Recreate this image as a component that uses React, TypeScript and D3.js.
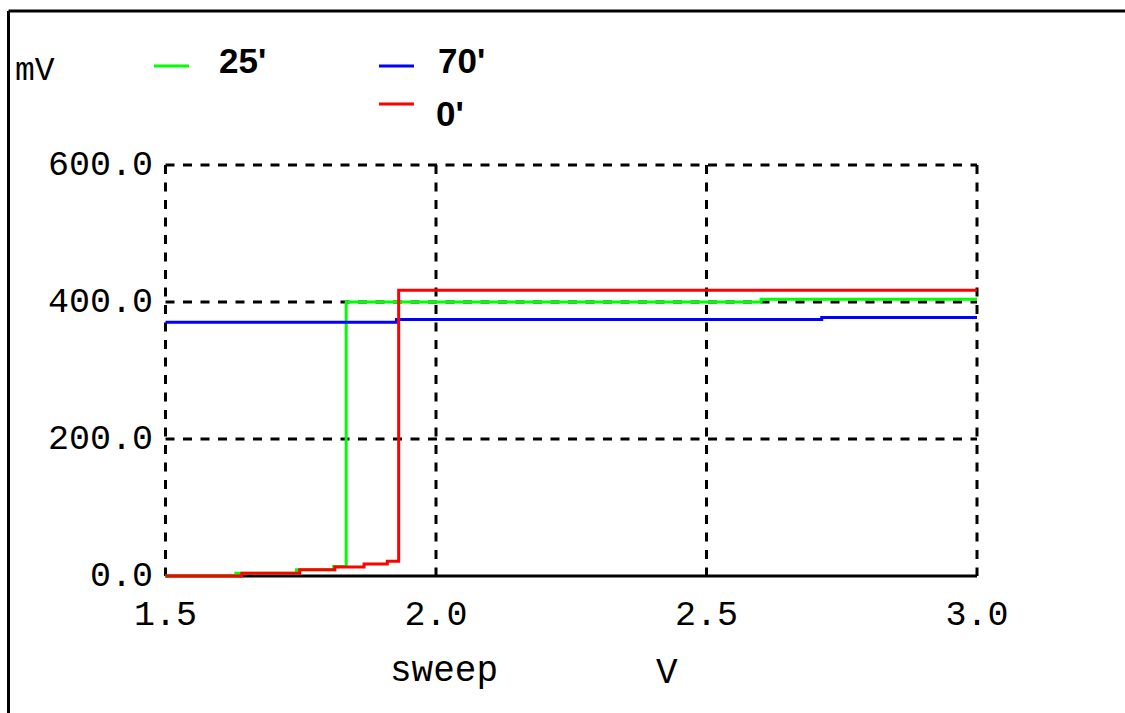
import * as d3 from 'd3';

// sweep voltage breakpoints (V) and values (mV) for each trace, step-after
const green25X = [1.5, 1.63, 1.742, 1.811, 1.834, 2.601, 3.0];
const green25Y = [0, 4, 9, 14, 400, 404, 404];

const blue70X = [1.5, 1.927, 2.713, 3.0];
const blue70Y = [370.4, 374.5, 377.3, 377.3];

const red0X = [1.5, 1.641, 1.748, 1.813, 1.867, 1.91, 1.931, 3.0];
const red0Y = [0, 4, 9, 13, 17.5, 21.4, 417, 417];

const xTicks = [1.5, 2.0, 2.5, 3.0];
const yTicks = [0, 200, 400, 600];

const series = [
  { name: "25'", color: '#00ff00', xs: green25X, ys: green25Y },
  { name: "70'", color: '#0000ff', xs: blue70X, ys: blue70Y },
  { name: "0'", color: '#ff0000', xs: red0X, ys: red0Y },
];

const W = 1125;
const H = 713;
const mono = "'Liberation Mono', 'DejaVu Sans Mono', monospace";
const sans = "'Liberation Sans', Arial, sans-serif";

function App() {
  const x = d3.scaleLinear([1.5, 3.0], [165.5, 977]);
  const y = d3.scaleLinear([0, 600], [576, 165]);

  const line = d3
    .line<[number, number]>()
    .x((d) => x(d[0]))
    .y((d) => y(d[1]))
    .curve(d3.curveStepAfter);

  const legend = [
    { s: series[0], lx: 154, tx: 219, ly: 66, ty: 73 },
    { s: series[1], lx: 379, tx: 438, ly: 66, ty: 73 },
    { s: series[2], lx: 379, tx: 436, ly: 104, ty: 126 },
  ];

  return (
    <svg
      width={W}
      height={H}
      style={{ position: 'absolute', left: 0, top: 0, background: '#fff' }}
    >
      {/* outer frame (top and left edges visible) */}
      <line x1={8.5} y1={11} x2={W} y2={11} stroke="#000" strokeWidth={3} />
      <line x1={8.5} y1={11} x2={8.5} y2={H} stroke="#000" strokeWidth={3} />

      {/* grid */}
      <g stroke="#000" strokeWidth={3} strokeDasharray="9,8.5">
        {xTicks.map((t) => (
          <line key={'gx' + t} x1={x(t)} x2={x(t)} y1={y(600)} y2={y(0)} />
        ))}
        {yTicks
          .filter((t) => t > 0)
          .map((t) => (
            <line key={'gy' + t} x1={x(1.5)} x2={x(3.0)} y1={y(t)} y2={y(t)} />
          ))}
      </g>
      <line x1={x(1.5)} x2={x(3.0)} y1={y(0)} y2={y(0)} stroke="#000" strokeWidth={3} />

      {/* traces */}
      {series.map((s) => (
        <path
          key={s.name}
          d={line(s.xs.map((v, i) => [v, s.ys[i]] as [number, number])) ?? undefined}
          fill="none"
          stroke={s.color}
          strokeWidth={3}
        />
      ))}

      {/* y tick labels */}
      <g fontFamily={mono} fontSize={35} fill="#000" textAnchor="end">
        {yTicks.map((t) => (
          <text key={'yl' + t} x={153} y={y(t) + 10}>
            {t.toFixed(1)}
          </text>
        ))}
      </g>

      {/* x tick labels */}
      <g fontFamily={mono} fontSize={35} fill="#000" textAnchor="middle">
        {xTicks.map((t) => (
          <text key={'xl' + t} x={x(t)} y={625}>
            {t.toFixed(1)}
          </text>
        ))}
      </g>

      {/* axis titles */}
      <text x={15} y={80} fontFamily={mono} fontSize={33} fill="#000">
        mV
      </text>
      <text x={390} y={681} fontFamily={mono} fontSize={36} fill="#000">
        sweep
      </text>
      <text x={656} y={683} fontFamily={mono} fontSize={36} fill="#000">
        V
      </text>

      {/* legend */}
      {legend.map((l) => (
        <g key={'lg' + l.s.name}>
          <line x1={l.lx} x2={l.lx + 35} y1={l.ly} y2={l.ly} stroke={l.s.color} strokeWidth={3} />
          <text x={l.tx} y={l.ty} fontFamily={sans} fontWeight="bold" fontSize={35} fill="#000">
            {l.s.name}
          </text>
        </g>
      ))}
    </svg>
  );
}

export default App;
